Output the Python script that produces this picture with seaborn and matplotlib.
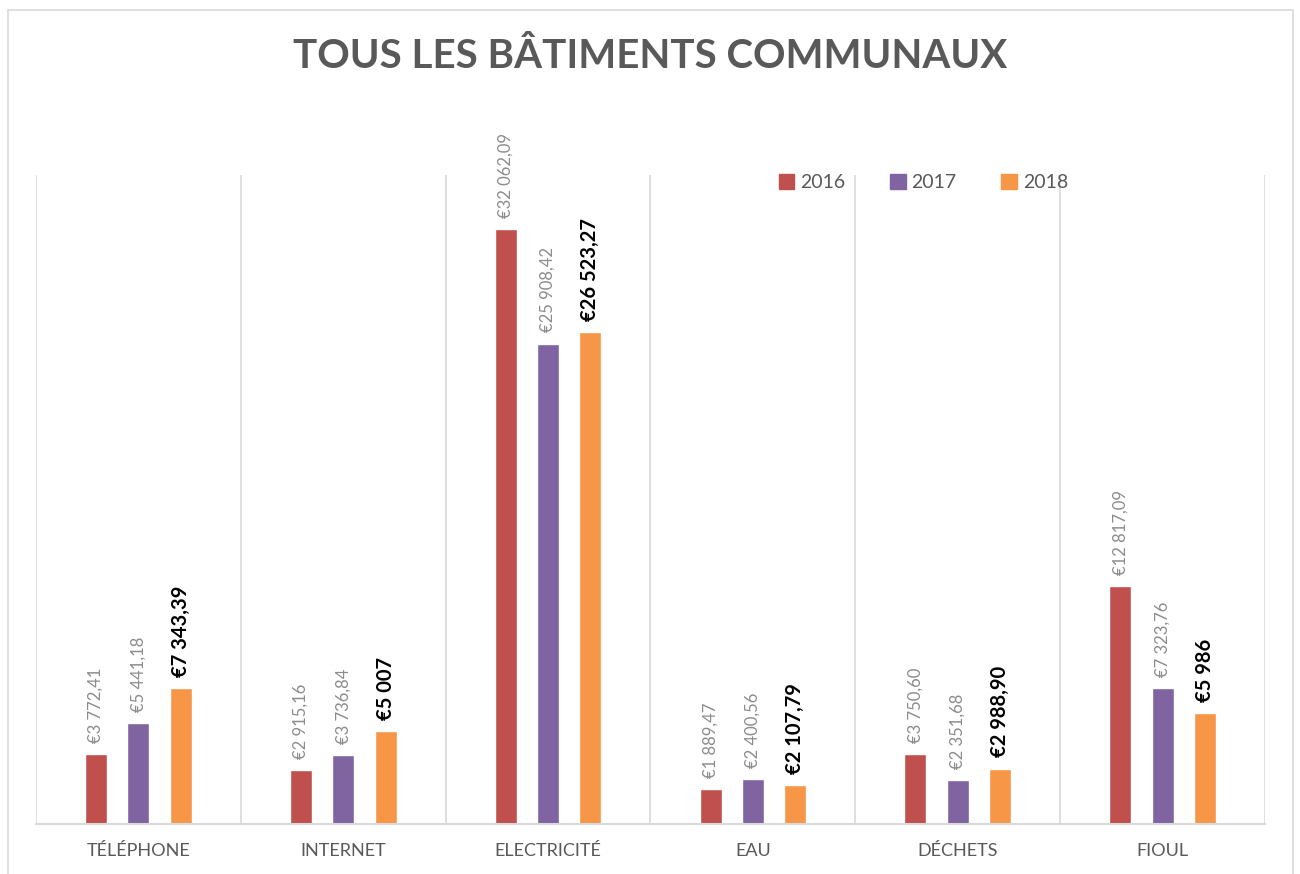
import matplotlib
matplotlib.use("Agg")
import matplotlib.pyplot as plt
from matplotlib.patches import Rectangle, Patch
import seaborn as sns
import pandas as pd

sns.set_theme(style="white")
plt.rcParams["font.family"] = ["Lato", "DejaVu Sans"]

# data
categories = ["TÉLÉPHONE", "INTERNET", "ELECTRICITÉ", "EAU", "DÉCHETS", "FIOUL"]
years = ["2016", "2017", "2018"]
v2016 = [3772.41, 2915.16, 32062.09, 1889.47, 3750.60, 12817.09]
v2017 = [5441.18, 3736.84, 25908.42, 2400.56, 2351.68, 7323.76]
v2018 = [7343.39, 5007.00, 26523.27, 2107.79, 2988.90, 5986.00]
colors = ["#C0504D", "#8064A2", "#F79646"]

df = pd.DataFrame({
    "cat": categories * 3,
    "year": [y for y in years for _ in categories],
    "val": v2016 + v2017 + v2018,
})


def euro(v):
    whole = int(round(v * 100)) // 100
    cents = int(round(v * 100)) % 100
    s = f"{whole:,}".replace(",", " ")
    if cents:
        s += f",{cents:02d}"
    return "€" + s


fig = plt.figure(figsize=(13, 8.74), dpi=100)
ax = fig.add_axes([36 / 1300, 1 - 824 / 874, 1229 / 1300, 649 / 874])

sns.barplot(data=df, x="cat", y="val", hue="year", palette=colors,
            width=0.62, gap=0.48, ax=ax, saturation=1, legend=False)

for i, cont in enumerate(ax.containers):
    vals = [v2016, v2017, v2018][i]
    labs = [euro(v) for v in vals]
    if i < 2:
        ax.bar_label(cont, labels=labs, rotation=90, padding=8,
                     fontsize=12, color="#8c8c8c")
    else:
        ax.bar_label(cont, labels=labs, rotation=90, padding=8,
                     fontsize=14.5, fontweight="bold", color="black")

ax.set_ylim(0, 35000)
ax.set_xlim(-0.5, len(categories) - 0.5)
ax.set_yticks([])
ax.set_xlabel("")
ax.set_ylabel("")
for b in range(len(categories) + 1):
    ax.axvline(b - 0.5, color="#d9d9d9", lw=1.2, zorder=0)
for s in ["top", "left", "right"]:
    ax.spines[s].set_visible(False)
ax.spines["bottom"].set_color("#d9d9d9")
ax.spines["bottom"].set_linewidth(1.5)
ax.tick_params(axis="x", length=0, pad=14, labelsize=13, labelcolor="#595959")

handles = [Patch(color=c, label=y) for c, y in zip(colors, years)]
ax.legend(handles=handles, ncol=3, frameon=False, loc="center",
          bbox_to_anchor=(0.722, 0.988), fontsize=14, labelcolor="#595959",
          handlelength=0.8, handleheight=0.8, handletextpad=0.3,
          columnspacing=2.3)

fig.text(0.5, 1 - 57 / 874, "TOUS LES BÂTIMENTS COMMUNAUX", ha="center",
         va="center", fontsize=29, fontweight="bold", color="#595959")

fig.patches.append(Rectangle((8 / 1300, -0.05), 1285 / 1300, 1.05 - 10 / 874,
                             transform=fig.transFigure, fill=False,
                             edgecolor="#d9d9d9", lw=1.2))

fig.savefig("out.png", dpi=100, facecolor="white")
